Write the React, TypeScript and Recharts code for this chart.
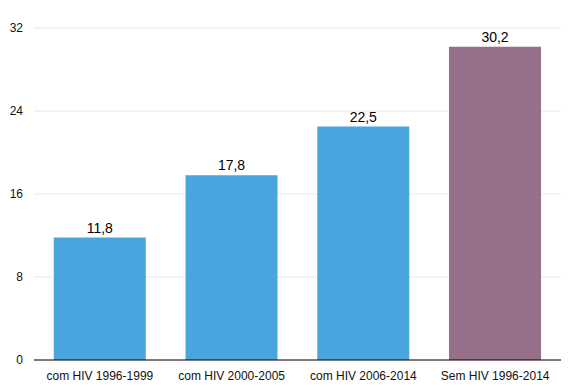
import React from "react";
import { BarChart, Bar, XAxis, YAxis, CartesianGrid, Cell, LabelList } from "recharts";

const categories = ["com HIV 1996-1999", "com HIV 2000-2005", "com HIV 2006-2014", "Sem HIV 1996-2014"];
const values = [11.8, 17.8, 22.5, 30.2];
const barColors = ["#4aa5df", "#4aa5df", "#4aa5df", "#96708a"];
const yTicks = [0, 8, 16, 24, 32];

const data = categories.map((name, i) => ({ name, value: values[i] }));

const font = "Liberation Sans, Arial, Helvetica, sans-serif";

export default function App() {
  return (
    <div style={{ position: "absolute", left: 0, top: 0, background: "#fff" }}>
      <BarChart
        width={570}
        height={387}
        data={data}
        margin={{ top: 28, right: 9, left: 0, bottom: 5 }}
        barCategoryGap="15%"
      >
        <CartesianGrid vertical={false} stroke="#e8e8e8" />
        <XAxis
          dataKey="name"
          height={22}
          axisLine={{ stroke: "#000" }}
          tickLine={false}
          tickMargin={5}
          interval={0}
          tick={{ fill: "#111", fontSize: 12, fontFamily: font }}
        />
        <YAxis
          width={34}
          domain={[0, 32]}
          ticks={yTicks}
          axisLine={false}
          tickLine={false}
          tickSize={0}
          tickMargin={11}
          tick={{ fill: "#111", fontSize: 12, fontFamily: font }}
        />
        <Bar dataKey="value" isAnimationActive={false}>
          {data.map((d, i) => (
            <Cell key={d.name} fill={barColors[i]} />
          ))}
          <LabelList
            dataKey="value"
            position="top"
            offset={5}
            formatter={(v: any) => String(v).replace(".", ",")}
            style={{ fill: "#000", fontSize: 14, fontFamily: font }}
          />
        </Bar>
      </BarChart>
    </div>
  );
}
